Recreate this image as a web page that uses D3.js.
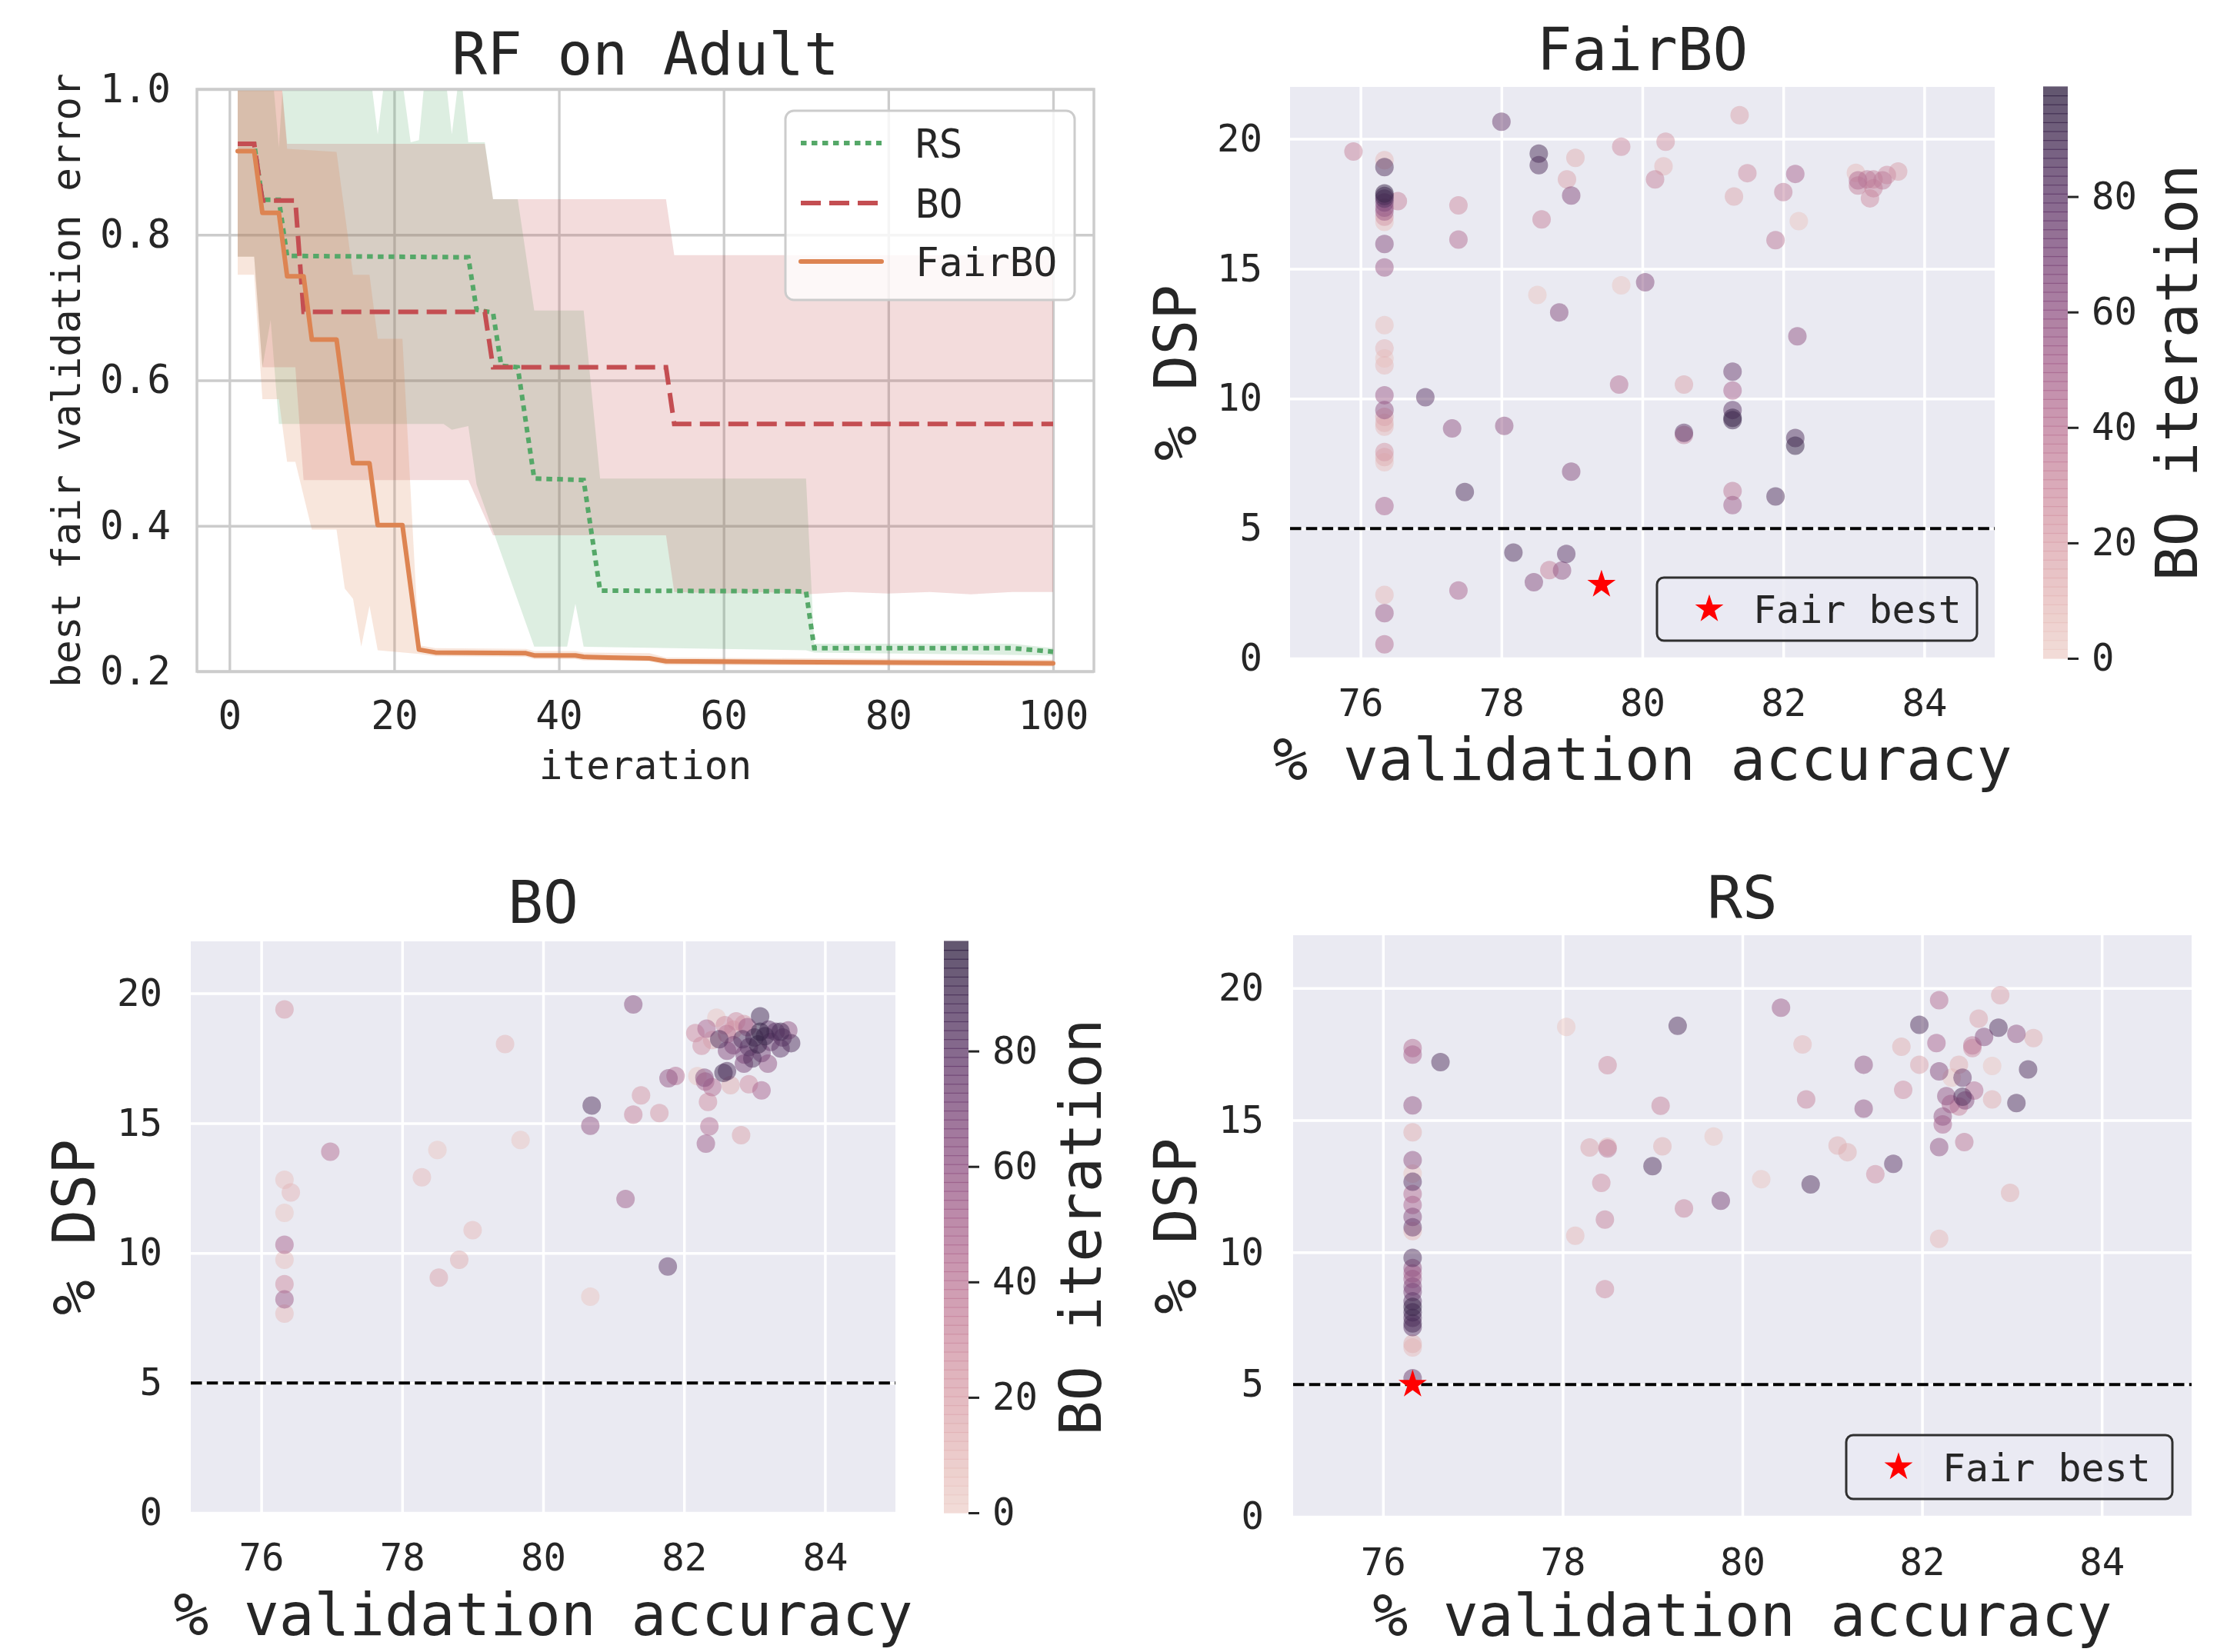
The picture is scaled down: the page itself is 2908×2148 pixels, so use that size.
<!DOCTYPE html>
<html><head><meta charset="utf-8">
<script src="https://cdn.jsdelivr.net/npm/d3@7"></script>
<style>
body{margin:0;background:#fff}
svg text{font-family:"DejaVu Sans Mono",monospace;fill:#262626}
</style>
</head><body>
<script>
// ---------------- DATA ----------------
const iterTicks = [0, 20, 40, 60, 80, 100];
const errTicks = [0.2, 0.4, 0.6, 0.8, 1.0];
const accTicks = [76, 78, 80, 82, 84];
const dspTicks = [0, 5, 10, 15, 20];
const cbTicks = [0, 20, 40, 60, 80];
const methods = ["RS", "BO", "FairBO"];

// mean best fair validation error, [iteration, value] vertices
const rsMean = [[1,0.925],[3,0.925],[4,0.848],[6,0.848],[7,0.771],[29,0.769],[30,0.697],[32,0.693],[33,0.620],[35,0.618],[37,0.465],[43,0.463],[45,0.311],[70,0.310],[71,0.232],[95,0.232],[100,0.227]];
const boMean = [[1,0.925],[3,0.925],[4,0.847],[8,0.847],[9,0.694],[31,0.694],[32,0.618],[53,0.618],[54,0.540],[100,0.540]];
const fairMean = [[1,0.915],[3,0.915],[4,0.830],[6,0.830],[7,0.743],[9,0.743],[10,0.656],[13,0.656],[15,0.486],[17,0.486],[18,0.401],[21,0.401],[23,0.230],[25,0.226],[36,0.225],[37,0.222],[42,0.222],[43,0.220],[46,0.219],[51,0.218],[53,0.214],[67,0.213],[100,0.211]];

// uncertainty bands
const rsUpper = [[1,1.05],[5,1.05],[6,0.92],[7,1.1],[17,1.03],[18,0.938],[19,1.03],[21,1.01],[22,0.927],[23,0.93],[24,1.05],[26,1.04],[27,0.938],[28,1.03],[29,0.927],[31,0.927],[32,0.849],[35,0.849],[37,0.696],[43,0.696],[45,0.465],[70,0.465],[71,0.238],[95,0.238],[100,0.232]];
const rsLower = [[1,0.77],[3,0.77],[4,0.618],[5,0.683],[6,0.54],[26,0.54],[27,0.532],[29,0.537],[30,0.457],[37,0.234],[41,0.234],[42,0.293],[43,0.234],[70,0.229],[71,0.226],[100,0.222]];
const boUpper = [[1,1.05],[6,1.05],[7,0.925],[31,0.925],[32,0.849],[53,0.849],[54,0.772],[100,0.772]];
const boLower = [[1,0.77],[3,0.77],[4,0.618],[8,0.618],[9,0.463],[29,0.463],[32,0.387],[53,0.387],[54,0.309],[60,0.307],[65,0.309],[70,0.306],[75,0.309],[80,0.307],[85,0.309],[90,0.306],[95,0.309],[100,0.309]];
const fairUpper = [[1,1.05],[6,1.05],[7,0.918],[13,0.914],[15,0.745],[17,0.745],[18,0.657],[21,0.657],[23,0.236],[25,0.232],[36,0.231],[37,0.228],[42,0.228],[43,0.226],[51,0.225],[53,0.219],[100,0.216]];
const fairLower = [[1,0.745],[3,0.745],[4,0.574],[6,0.574],[7,0.488],[8,0.488],[10,0.395],[13,0.395],[14,0.314],[15,0.30],[16,0.234],[17,0.29],[18,0.229],[23,0.224],[25,0.221],[36,0.220],[37,0.217],[42,0.217],[43,0.215],[51,0.214],[53,0.209],[100,0.207]];

// FairBO scatter
const fairAcc = [78.00,81.38,75.90,76.34,76.34,78.53,78.53,79.05,79.70,80.33,80.30,78.93,80.18,78.99,81.49,82.17,81.30,82.00,82.22,81.89,83.03,83.06,83.19,83.28,83.41,83.47,83.63,83.23,83.06,83.28,76.34,76.34,76.34,76.34,76.34,76.34,76.34,76.34,76.53,77.39,77.39,78.57,76.34,76.34,79.70,80.04,78.51,78.82,76.34,76.34,76.34,76.34,82.20,81.28,81.28,79.67,80.59,76.34,76.92,76.34,76.34,76.34,76.34,77.30,78.04,81.28,81.28,81.28,80.59,80.59,82.17,82.17,76.34,76.34,76.34,78.99,77.48,81.28,81.28,81.89,76.34,78.17,78.92,78.68,78.86,78.46,77.39,76.34,76.34,76.34];
const fairDsp = [20.66,20.91,19.51,19.18,18.91,19.43,18.99,19.27,19.70,19.89,18.94,18.44,18.44,17.82,18.68,18.65,17.78,17.95,16.83,16.10,18.69,18.40,18.44,18.44,18.40,18.61,18.74,17.71,18.20,18.10,17.90,17.80,17.70,17.55,17.35,17.20,17.00,16.80,17.60,17.44,16.12,16.90,15.95,15.05,14.36,14.48,13.99,13.32,12.83,11.93,11.55,11.28,12.40,11.04,10.31,10.54,10.54,10.13,10.05,9.56,9.30,9.07,8.92,8.85,8.95,9.56,9.26,9.17,8.60,8.68,8.48,8.19,7.94,7.75,7.55,7.19,6.40,6.44,5.90,6.23,5.86,4.07,4.02,3.40,3.38,2.93,2.61,2.44,1.74,0.54];
const fairIter = [75,20,35,10,85,88,85,15,30,25,12,20,35,65,30,50,18,38,5,40,10,45,40,35,40,30,22,30,35,35,95,90,85,70,60,55,25,8,35,30,45,35,65,55,5,65,5,65,8,12,5,10,60,75,50,45,20,55,80,60,20,15,10,60,60,80,95,92,40,80,85,95,25,15,8,65,85,40,55,85,50,85,80,35,60,65,50,10,55,45];
const fairStarAcc = [79.42];
const fairStarDsp = [2.84];

// BO scatter
const boAcc = [76.33,81.28,79.46,80.69,80.67,81.39,81.28,81.65,81.78,81.88,82.19,82.29,82.30,82.40,82.34,82.36,82.31,82.81,83.10,82.56,82.61,82.66,82.92,81.17,81.77,80.67,76.98,78.50,79.68,78.28,79.00,78.81,78.52,76.33,76.42,76.33,76.33,76.33,76.33,76.33,76.33,82.46,82.16,82.32,82.25,82.58,82.74,82.85,82.50,82.61,82.61,82.83,83.08,83.08,83.05,83.30,83.37,83.48,83.52,83.23,83.37,82.86,82.97,82.85,83.19,82.92,83.15,83.00,83.20,83.10,82.70,83.40,82.90,82.70,82.40];
const boDsp = [19.38,19.57,18.05,15.68,14.90,16.07,15.33,15.39,16.73,16.82,16.81,16.75,16.60,16.39,15.82,14.88,14.21,14.54,16.26,16.94,17.00,16.46,16.50,12.08,9.48,8.32,13.90,13.97,14.35,12.92,10.88,9.74,9.05,12.82,12.33,11.55,10.32,9.74,8.80,8.22,7.67,19.06,18.47,18.64,17.98,18.77,18.92,18.82,18.23,18.43,17.79,18.23,19.11,18.52,18.03,18.52,18.52,18.57,18.08,18.13,17.88,17.64,17.49,17.29,17.29,17.93,18.35,18.30,18.60,17.70,18.00,18.30,18.70,18.60,18.20];
const boIter = [25,65,12,85,60,25,35,25,60,45,5,65,50,45,30,45,55,20,50,90,85,15,30,55,80,5,45,5,5,10,10,15,20,8,12,5,50,8,30,55,10,5,30,50,30,30,30,25,85,40,65,85,90,97,95,80,90,60,85,75,80,70,85,70,60,80,92,88,78,72,68,82,55,20,15];

// RS scatter
const rsAcc = [78.04,79.28,76.33,76.33,76.64,78.50,79.09,76.33,76.33,78.30,78.50,78.50,79.11,79.68,79.00,76.33,76.33,76.33,78.43,76.33,76.33,76.33,76.33,76.33,79.35,79.76,78.47,78.14,78.47,76.33,76.33,76.33,76.33,76.33,76.33,76.33,76.33,76.33,76.33,76.33,76.33,76.33,76.33,76.33,80.43,80.67,81.35,80.71,81.35,81.06,81.17,81.68,81.48,80.21,80.76,82.19,82.87,81.97,81.77,82.16,82.63,82.85,82.69,83.05,83.24,82.56,82.56,81.97,82.41,82.78,83.18,82.19,82.33,82.45,81.79,82.27,82.58,82.45,82.48,82.32,82.41,82.78,83.05,82.23,82.23,82.19,82.47,82.98,82.19];
const rsDsp = [18.53,18.57,17.73,17.48,17.20,17.08,15.55,15.56,14.54,13.97,13.93,14.00,14.01,14.38,13.26,13.49,12.98,12.67,12.63,12.21,11.79,11.34,10.95,10.80,11.66,11.95,11.24,10.63,8.61,9.79,9.41,9.20,8.99,8.71,8.50,8.15,7.94,7.73,7.52,7.31,7.17,6.54,6.40,5.24,19.26,17.87,17.10,15.79,15.44,14.04,13.79,13.35,12.96,12.77,12.57,19.54,19.73,18.61,17.78,17.92,18.84,18.50,18.15,18.27,18.11,17.83,17.73,17.10,17.10,17.05,16.92,16.85,16.61,16.61,16.15,15.91,16.12,15.89,15.75,15.61,15.52,15.79,15.65,15.14,14.84,13.98,14.17,12.25,10.51];
const rsIter = [5,85,45,50,85,30,35,60,15,20,40,10,15,5,85,60,5,80,30,45,50,65,75,10,35,70,35,10,30,85,60,50,55,65,70,80,95,90,85,88,80,15,10,75,55,12,60,35,60,15,15,80,30,5,85,45,20,85,15,50,20,85,65,60,15,40,30,20,15,5,85,65,5,75,30,60,45,85,65,50,35,15,85,60,50,60,40,15,10];
const rsStarAcc = [76.33];
const rsStarDsp = [5.0];

// ---------------- HELPERS ----------------
const W = 2908, H = 2148;
const INK = "#262626";
const svg = d3.select("body").append("svg").attr("width", W).attr("height", H)
  .style("background", "#fff").attr("font-family", "DejaVu Sans Mono");

// seaborn cubehelix_palette(as_cmap=True) defaults
function chColor(t) {
  t = Math.max(0, Math.min(1, t));
  const x = 0.85 + (0.15 - 0.85) * t;
  const a = 0.8 * x * (1 - x) / 2;
  const phi = 2 * Math.PI * (0.4 * x);
  const c = Math.cos(phi), s = Math.sin(phi);
  const cl = v => Math.round(255 * Math.max(0, Math.min(1, v)));
  const r = x + a * (-0.14861 * c + 1.78277 * s);
  const g = x + a * (-0.29227 * c - 0.90649 * s);
  const b = x + a * (1.97294 * c);
  return `rgb(${cl(r)},${cl(g)},${cl(b)})`;
}
const iterColor = d3.scaleSequential(chColor).domain([0, 99]);

function styleAxis(sel, fs) {
  sel.select(".domain").remove();
  sel.attr("font-family", "DejaVu Sans Mono").attr("font-size", fs);
  sel.selectAll("text").attr("fill", INK);
}

// ---------------- PANEL 1: line plot ----------------
(function () {
  const P = {x0: 256, x1: 1422, y0: 116, y1: 873};
  const x = d3.scaleLinear().domain([-3.95, 104.95]).range([P.x0, P.x1]);
  const y = d3.scaleLinear().domain([0.2, 1.0]).range([P.y1, P.y0]);
  const g = svg.append("g");
  g.append("rect").attr("x", P.x0).attr("y", P.y0).attr("width", P.x1 - P.x0).attr("height", P.y1 - P.y0).attr("fill", "#fff");

  // grid
  g.append("g").attr("transform", `translate(0,${P.y1})`)
    .call(d3.axisBottom(x).tickValues(iterTicks).tickSize(-(P.y1 - P.y0)).tickFormat(""))
    .call(s => s.select(".domain").remove())
    .selectAll("line").attr("stroke", "#cccccc").attr("stroke-width", 3.3);
  g.append("g").attr("transform", `translate(${P.x0},0)`)
    .call(d3.axisLeft(y).tickValues(errTicks).tickSize(-(P.x1 - P.x0)).tickFormat(""))
    .call(s => s.select(".domain").remove())
    .selectAll("line").attr("stroke", "#cccccc").attr("stroke-width", 3.3);

  svg.append("clipPath").attr("id", "clip1").append("rect")
    .attr("x", P.x0).attr("y", P.y0).attr("width", P.x1 - P.x0).attr("height", P.y1 - P.y0);
  const pg = g.append("g").attr("clip-path", "url(#clip1)");

  const line = d3.line().x(d => x(d[0])).y(d => y(d[1]));
  const series = [
    {name: "RS", mean: rsMean, up: rsUpper, lo: rsLower, color: "#55A868", dash: "7.5,6.5"},
    {name: "BO", mean: boMean, up: boUpper, lo: boLower, color: "#C44E52", dash: "26,11"},
    {name: "FairBO", mean: fairMean, up: fairUpper, lo: fairLower, color: "#DD8452", dash: null}
  ];
  series.forEach(s => {
    pg.append("path").attr("d", line(s.up.concat(s.lo.slice().reverse())) + "Z")
      .attr("fill", s.color).attr("fill-opacity", 0.2).attr("stroke", "none");
  });
  series.forEach(s => {
    const p = pg.append("path").attr("d", line(s.mean)).attr("fill", "none")
      .attr("stroke", s.color).attr("stroke-width", 6);
    if (s.dash) p.attr("stroke-dasharray", s.dash).attr("stroke-linecap", "butt");
    else p.attr("stroke-linecap", "round").attr("stroke-linejoin", "round");
  });

  // spines
  g.append("rect").attr("x", P.x0).attr("y", P.y0).attr("width", P.x1 - P.x0).attr("height", P.y1 - P.y0)
    .attr("fill", "none").attr("stroke", "#cccccc").attr("stroke-width", 3.5);

  // tick labels
  g.append("g").attr("transform", `translate(0,${P.y1})`)
    .call(d3.axisBottom(x).tickValues(iterTicks).tickSize(0).tickPadding(39).tickFormat(d3.format("d")))
    .call(s => styleAxis(s, 51));
  g.append("g").attr("transform", `translate(${P.x0},0)`)
    .call(d3.axisLeft(y).tickValues(errTicks).tickSize(0).tickPadding(34).tickFormat(d3.format(".1f")))
    .call(s => styleAxis(s, 51));

  g.append("text").attr("x", (P.x0 + P.x1) / 2).attr("y", 97).attr("text-anchor", "middle")
    .attr("font-size", 76).text("RF on Adult");
  g.append("text").attr("x", (P.x0 + P.x1) / 2).attr("y", 1013).attr("text-anchor", "middle")
    .attr("font-size", 51).text("iteration");
  g.append("text").attr("transform", `translate(104,${(P.y0 + P.y1) / 2}) rotate(-90)`)
    .attr("text-anchor", "middle").attr("font-size", 51).text("best fair validation error");

  // legend
  const L = g.append("g");
  L.append("rect").attr("x", 1021).attr("y", 144).attr("width", 376).attr("height", 246).attr("rx", 11)
    .attr("fill", "#fff").attr("fill-opacity", 0.8).attr("stroke", "#cccccc").attr("stroke-width", 3);
  const ly = [186, 264, 340];
  series.forEach((s, i) => {
    const l = L.append("line").attr("x1", 1041).attr("x2", 1146).attr("y1", ly[i]).attr("y2", ly[i])
      .attr("stroke", s.color).attr("stroke-width", 6);
    if (s.dash) l.attr("stroke-dasharray", s.dash);
    else l.attr("stroke-linecap", "round");
    L.append("text").attr("x", 1190).attr("y", ly[i] + 18.5).attr("font-size", 51).text(methods[i]);
  });
})();

// ---------------- SCATTER PANELS ----------------
function scatterPanel(cfg) {
  const P = cfg.P;
  const x = d3.scaleLinear().domain([75, 85]).range([P.x0, P.x1]);
  const y = d3.scaleLinear().domain([0, 22]).range([P.y1, P.y0]);
  const g = svg.append("g");
  g.append("rect").attr("x", P.x0).attr("y", P.y0).attr("width", P.x1 - P.x0).attr("height", P.y1 - P.y0)
    .attr("fill", "#EAEAF2");
  g.append("g").attr("transform", `translate(0,${P.y1})`)
    .call(d3.axisBottom(x).tickValues(accTicks).tickSize(-(P.y1 - P.y0)).tickFormat(""))
    .call(s => s.select(".domain").remove())
    .selectAll("line").attr("stroke", "#fff").attr("stroke-width", 3.5);
  g.append("g").attr("transform", `translate(${P.x0},0)`)
    .call(d3.axisLeft(y).tickValues(dspTicks).tickSize(-(P.x1 - P.x0)).tickFormat(""))
    .call(s => s.select(".domain").remove())
    .selectAll("line").attr("stroke", "#fff").attr("stroke-width", 3.5);

  const cid = "clip" + cfg.id;
  svg.append("clipPath").attr("id", cid).append("rect")
    .attr("x", P.x0).attr("y", P.y0).attr("width", P.x1 - P.x0).attr("height", P.y1 - P.y0);
  const pg = g.append("g").attr("clip-path", `url(#${cid})`);

  const pts = cfg.acc.map((a, i) => ({a, d: cfg.dsp[i], it: cfg.iter[i]}))
    .sort((p, q) => p.it - q.it);
  pg.selectAll("circle.pt").data(pts).join("circle").attr("class", "pt")
    .attr("cx", p => x(p.a)).attr("cy", p => y(p.d)).attr("r", 12)
    .attr("fill", p => iterColor(p.it)).attr("fill-opacity", 0.5);

  pg.append("line").attr("x1", P.x0).attr("x2", P.x1).attr("y1", y(5)).attr("y2", y(5))
    .attr("stroke", "#000").attr("stroke-width", 4).attr("stroke-dasharray", "14.5,6.3");

  const star = d3.symbol(d3.symbolStar, 420);
  if (cfg.starAcc) {
    cfg.starAcc.forEach((a, i) => {
      pg.append("path").attr("d", star()).attr("transform", `translate(${x(a)},${y(cfg.starDsp[i])})`)
        .attr("fill", "#ff0000");
    });
  }

  g.append("g").attr("transform", `translate(0,${P.y1})`)
    .call(d3.axisBottom(x).tickValues(accTicks).tickSize(0).tickPadding(cfg.padX).tickFormat(d3.format("d")))
    .call(s => styleAxis(s, 49));
  g.append("g").attr("transform", `translate(${P.x0},0)`)
    .call(d3.axisLeft(y).tickValues(dspTicks).tickSize(0).tickPadding(cfg.padY).tickFormat(d3.format("d")))
    .call(s => styleAxis(s, 49));

  g.append("text").attr("x", (P.x0 + P.x1) / 2).attr("y", cfg.titleY).attr("text-anchor", "middle")
    .attr("font-size", 76).text(cfg.title);
  g.append("text").attr("x", (P.x0 + P.x1) / 2).attr("y", cfg.xlabY).attr("text-anchor", "middle")
    .attr("font-size", 76).text("% validation accuracy");
  g.append("text").attr("transform", `translate(${cfg.ylabX},${(P.y0 + P.y1) / 2}) rotate(-90)`)
    .attr("text-anchor", "middle").attr("font-size", 76).text("% DSP");

  if (cfg.legend) {
    const Lb = cfg.legend;
    g.append("rect").attr("x", Lb.x0).attr("y", Lb.y0).attr("width", Lb.x1 - Lb.x0).attr("height", Lb.y1 - Lb.y0)
      .attr("rx", 9).attr("fill", "#EAEAF2").attr("fill-opacity", 0.8).attr("stroke", "#303030").attr("stroke-width", 3);
    const cy = (Lb.y0 + Lb.y1) / 2;
    g.append("path").attr("d", star()).attr("transform", `translate(${Lb.x0 + 68},${cy})`).attr("fill", "#ff0000");
    g.append("text").attr("x", Lb.x0 + 125).attr("y", cy + 18).attr("font-size", 50).text("Fair best");
  }

  if (cfg.cb) {
    const C = cfg.cb;
    const yc = d3.scaleLinear().domain([0, 99]).range([P.y1, P.y0]);
    const N = 64;
    const segs = d3.range(N);
    g.selectAll("rect.cb" + cfg.id).data(segs).join("rect").attr("class", "cb" + cfg.id)
      .attr("x", C.x0).attr("width", C.x1 - C.x0)
      .attr("y", i => yc((i + 1) * 99 / N) - 0.6)
      .attr("height", i => yc(i * 99 / N) - yc((i + 1) * 99 / N) + 1.2)
      .attr("fill", i => iterColor((i + 0.5) * 99 / N)).attr("fill-opacity", 0.75);
    const ax = g.append("g").attr("transform", `translate(${C.x1},0)`)
      .call(d3.axisRight(yc).tickValues(cbTicks).tickSize(14).tickPadding(17).tickFormat(d3.format("d")))
      .call(s => styleAxis(s, 49));
    ax.selectAll("line").attr("stroke", INK).attr("stroke-width", 3);
    g.append("text").attr("transform", `translate(${C.labX},${(P.y0 + P.y1) / 2}) rotate(-90)`)
      .attr("text-anchor", "middle").attr("font-size", 75).text("BO iteration");
  }
}

scatterPanel({
  id: 2, P: {x0: 1677, x1: 2593, y0: 113, y1: 856},
  acc: fairAcc, dsp: fairDsp, iter: fairIter, starAcc: fairStarAcc, starDsp: fairStarDsp,
  title: "FairBO", titleY: 91, xlabY: 1014, ylabX: 1555, padX: 40, padY: 36,
  legend: {x0: 2154, x1: 2570, y0: 751, y1: 833},
  cb: {x0: 2656, x1: 2688, labX: 2856}
});
scatterPanel({
  id: 3, P: {x0: 248, x1: 1164, y0: 1224, y1: 1967},
  acc: boAcc, dsp: boDsp, iter: boIter,
  title: "BO", titleY: 1200, xlabY: 2126, ylabX: 123, padX: 40, padY: 37,
  cb: {x0: 1227, x1: 1259, labX: 1431}
});
scatterPanel({
  id: 4, P: {x0: 1681, x1: 2849, y0: 1216, y1: 1972},
  acc: rsAcc, dsp: rsDsp, iter: rsIter, starAcc: rsStarAcc, starDsp: rsStarDsp,
  title: "RS", titleY: 1194, xlabY: 2127, ylabX: 1555, padX: 41, padY: 38,
  legend: {x0: 2400, x1: 2824, y0: 1866, y1: 1949}
});
</script>
</body></html>
